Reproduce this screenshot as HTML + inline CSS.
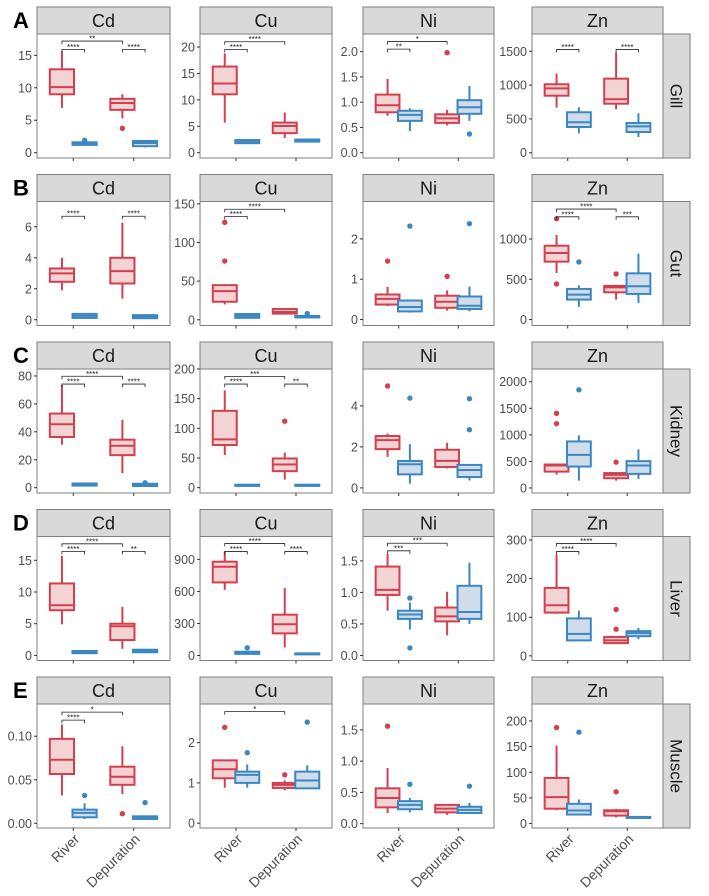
<!DOCTYPE html>
<html><head><meta charset="utf-8">
<style>
html,body{margin:0;padding:0;background:#fff;}
svg{display:block;font-family:"Liberation Sans",sans-serif;}
</style></head>
<body>
<svg id="chart" width="709" height="896" viewBox="0 0 709 896" xmlns="http://www.w3.org/2000/svg"></svg>
<script>
const organs = ['Gill','Gut','Kidney','Liver','Muscle'];
const rowLetters = ['A','B','C','D','E'];
const metals = ['Cd','Cu','Ni','Zn'];
const categories = ['River','Depuration'];
const yDomains = [
 [-0.82,18.29],[-1.0,22.46],[-0.105,2.35],[-78,1755],
 [-0.37,7.63],[-7.4,153],[-0.15,2.93],[-74,1466],
 [-3.8,85],[-9,200],[-0.25,5.8],[-95,2240],
 [-0.8,18.75],[-47,1114],[-0.08,1.887],[-12,309],
 [-0.0054,0.137],[-0.12,2.96],[-0.07,1.915],[-8.6,233]
];
const yTicks = [
 ['0','5','10','15'],['0','5','10','15','20'],['0.0','0.5','1.0','1.5','2.0'],['0','500','1000','1500'],
 ['0','2','4','6'],['0','50','100','150'],['0','1','2'],['0','500','1000'],
 ['0','20','40','60','80'],['0','50','100','150','200'],['0','2','4'],['0','500','1000','1500','2000'],
 ['0','5','10','15'],['0','300','600','900'],['0.0','0.5','1.0','1.5'],['0','100','200','300'],
 ['0.00','0.05','0.10'],['0','1','2'],['0.0','0.5','1.0','1.5'],['0','50','100','150','200']
];
const boxStats = [
 [[6.9,9.0,10.1,12.85,15.6],[1.2,1.2,1.4,1.6,1.6],[5.3,6.6,7.65,8.3,9.0],[0.8,1.0,1.5,1.8,1.8]],
 [[5.7,11.05,13.1,16.3,18.8],[1.7,1.8,2.0,2.4,2.5],[2.8,3.7,5.05,5.7,7.6],[2.0,2.1,2.3,2.5,2.6]],
 [[0.73,0.80,0.94,1.15,1.46],[0.43,0.63,0.75,0.83,0.88],[0.54,0.59,0.68,0.76,0.85],[0.63,0.77,0.90,1.04,1.32]],
 [[666,843,952,1012,1169],[287,380,450,598,672],[642,725,790,1095,1485],[232,306,390,440,583]],
 [[1.91,2.45,2.99,3.31,4.0],[0.1,0.12,0.25,0.38,0.4],[1.37,2.34,3.14,4.0,6.26],[0.08,0.1,0.2,0.3,0.33]],
 [[19.8,23.3,37,44.8,45],[2,2.5,5,7.5,8],[7,8,10,14,15],[2,3,4,5,5.5]],
 [[0.33,0.37,0.51,0.62,0.81],[0.17,0.2,0.31,0.47,0.47],[0.22,0.29,0.44,0.59,0.72],[0.2,0.26,0.34,0.57,0.82]],
 [[579,719,826,917,1050],[157,248,310,380,425],[248,338,400,418,434],[207,318,413,574,818]],
 [[30.8,36.3,45.4,53.1,73.5],[1,1.5,2,3,3.5],[10.4,23.3,30,34.4,48.6],[0.8,1.2,2,2.8,3.2]],
 [[55,71.9,81.4,129.5,164],[2,3,4,5,6],[13.6,27.8,39,49.2,59.3],[2,3,4,5,6]],
 [[1.51,1.89,2.33,2.53,2.65],[0.21,0.66,1.15,1.31,2.13],[0.95,1.02,1.32,1.86,2.2],[0.36,0.53,0.87,1.12,1.12]],
 [[252,308,422,441,441],[138,403,624,876,990],[138,183,246,280,297],[170,265,422,505,725]],
 [[4.9,7.13,7.92,11.35,15.7],[0.3,0.35,0.5,0.7,0.75],[1.05,2.42,4.6,5.0,7.65],[0.4,0.5,0.7,0.9,1.0]],
 [[615,684,831,878,975],[10,15,25,35,40],[75,207,292,382,631],[8,10,15,20,22]],
 [[0.71,0.96,1.04,1.41,1.61],[0.41,0.58,0.65,0.71,0.84],[0.32,0.54,0.62,0.76,1.01],[0.50,0.58,0.69,1.105,1.47]],
 [[109,112,131,176,262],[40,40,57,97,117],[30,33,40,49,49],[43,51,59,64,72]],
 [[0.0319,0.0566,0.073,0.097,0.1135],[0.005,0.0069,0.0119,0.0157,0.023],[0.0335,0.0442,0.0535,0.065,0.0885],[0.004,0.005,0.006,0.008,0.008]],
 [[0.88,1.115,1.34,1.56,1.58],[0.88,1.0,1.2,1.28,1.46],[0.815,0.875,0.95,1.0,1.06],[0.86,0.865,1.06,1.28,1.44]],
 [[0.17,0.26,0.41,0.565,0.89],[0.18,0.23,0.30,0.36,0.41],[0.14,0.18,0.24,0.3,0.3],[0.17,0.17,0.22,0.27,0.33]],
 [[26,29,51.5,89,152],[17,17.6,25.4,38.5,47],[12,15.6,24,26,29],[10,11,12,13,14]]
];
const outliers = [
 [[],[1.9],[3.75],[]],
 [[],[],[],[]],
 [[],[],[1.98],[0.37]],
 [[],[],[],[]],
 [[],[],[],[]],
 [[76,126],[],[],[8]],
 [[1.45],[2.32],[1.07],[2.38]],
 [[1252,442],[715],[566],[]],
 [[],[],[],[3.5]],
 [[],[],[112],[]],
 [[4.97],[4.38],[],[2.84,4.35]],
 [[1211,1406],[1848],[486],[]],
 [[],[],[],[]],
 [[],[72],[],[]],
 [[],[0.91,0.12],[],[]],
 [[],[],[120,69],[]],
 [[],[0.0319],[0.011],[0.0238]],
 [[2.38],[1.75],[1.2],[2.51]],
 [[1.56],[0.63],[],[0.6]],
 [[187],[178],[62],[]]
];
const sigPanels = [0,0,0,1,1,2,2,3,3,4,4,5,5,7,7,7,8,8,8,9,9,9,12,12,12,13,13,13,14,14,15,15,16,16,17];
const sigFrom =   [0,0,2,0,0,0,0,0,2,0,2,0,0,0,0,2,0,0,2,0,0,2,0,0,2,0,0,2,0,0,0,0,0,0,0];
const sigTo =     [1,2,3,1,2,1,2,1,3,1,3,1,2,1,2,3,1,2,3,1,2,3,1,2,3,1,2,3,1,2,1,2,1,2,2];
const sigY = [15.9,17.2,15.9,19.55,21.0,2.05,2.2,1527,1527,6.68,6.68,133.6,143,1276,1372,1276,74.2,79.8,74.2,174.6,187.6,174.6,16.4,17.6,16.4,973,1048,973,1.66,1.78,270,291,0.1185,0.1277,2.77];
const sigLabels = ['****','**','****','****','****','**','*','****','****','****','****','****','****','****','****','***','****','****','****','****','***','**','****','****','**','****','****','****','***','***','****','****','****','*','*'];

const svg = document.getElementById('chart');
const NS = 'http://www.w3.org/2000/svg';
function mk(tag, attrs, parent){ const e=document.createElementNS(NS,tag); for(const k in attrs) e.setAttribute(k,attrs[k]); (parent||svg).appendChild(e); return e; }

const colX = [[37,170],[200,332],[363,494],[532,663]];
const rowTop = [7,174.5,342,509.5,677];
const STRIP=27, PH=124;
const RED='#d23f4f', REDF='#f3d3d3', BLUE='#3a87c2', BLUEF='#d0dcea';

function xScale(c, group){
  const [x0,x1]=colX[c]; const w=x1-x0; const u=w/2.2;
  const cat=Math.floor(group/2), side=(group%2)?1:-1;
  return x0 + u*(0.6+cat) + side*0.1875*u;
}
function catX(c,cat){ const [x0,x1]=colX[c]; return x0+(x1-x0)/2.2*(0.6+cat); }
function yScale(p, v){ const r=Math.floor(p/4); const top=rowTop[r]+STRIP, bot=top+PH; const [lo,hi]=yDomains[p]; return bot-(v-lo)/(hi-lo)*PH; }

for(let r=0;r<5;r++){
  const T=rowTop[r];
  const lt = mk('text',{x:13,y:T+21,'font-size':22,'font-weight':'bold',fill:'#000'});
  
  
  lt.textContent=rowLetters[r];
  const rs = mk('g',{});
  
  
  mk('rect',{x:663,y:T+STRIP,width:27,height:PH,fill:'#d9d9d9',stroke:'#7f7f7f','stroke-width':1},rs);
  const ot = mk('text',{x:0,y:0,'font-size':17,fill:'#1a1a1a','text-anchor':'middle',transform:`translate(670.5,${T+STRIP+PH/2}) rotate(90)`},rs);
  ot.textContent=organs[r];
  for(let c=0;c<4;c++){
    const p=r*4+c; const [x0,x1]=colX[c];
    const g = mk('g',{});
    
    
    mk('rect',{x:x0,y:T,width:x1-x0,height:STRIP,fill:'#d9d9d9',stroke:'#7f7f7f','stroke-width':1},g);
    const st=mk('text',{x:(x0+x1)/2,y:T+20,'font-size':18,fill:'#1a1a1a','text-anchor':'middle'},g);
    
    
    st.textContent=metals[c];
    mk('rect',{x:x0,y:T+STRIP,width:x1-x0,height:PH,fill:'#fff',stroke:'#7f7f7f','stroke-width':1},g);
    yTicks[p].forEach(lbl=>{
      const y=yScale(p,parseFloat(lbl));
      mk('line',{x1:x0-3,x2:x0,y1:y,y2:y,stroke:'#333','stroke-width':1},g);
      const t=mk('text',{x:x0-5,y:y+4.5,'font-size':12.5,fill:'#4d4d4d','text-anchor':'end'},g);
      
      
      t.textContent=lbl;
    });
    for(let k=0;k<4;k++){
      const s=boxStats[p][k]; const cx=xScale(c,k); const hw=(x1-x0)/2.2*0.2;
      const red=(k%2===0); const col=red?RED:BLUE, fil=red?REDF:BLUEF;
      const bg=mk('g',{},g);
      
      
      mk('line',{x1:cx,x2:cx,y1:yScale(p,s[0]),y2:yScale(p,s[1]),stroke:col,'stroke-width':2},bg);
      mk('line',{x1:cx,x2:cx,y1:yScale(p,s[3]),y2:yScale(p,s[4]),stroke:col,'stroke-width':2},bg);
      const yq3=yScale(p,s[3]), yq1=yScale(p,s[1]);
      mk('rect',{x:cx-hw,y:yq3,width:2*hw,height:Math.max(yq1-yq3,0.5),fill:fil,stroke:col,'stroke-width':2},bg);
      const ym=yScale(p,s[2]);
      mk('line',{x1:cx-hw,x2:cx+hw,y1:ym,y2:ym,stroke:col,'stroke-width':2},bg);
      outliers[p][k].forEach(v=>{
        const o=mk('circle',{cx:cx,cy:yScale(p,v),r:2.7,fill:col},bg);
        
        
      });
    }
    for(let cat=0;cat<2;cat++){
      const cx=catX(c,cat), yb=T+STRIP+PH;
      mk('line',{x1:cx,x2:cx,y1:yb,y2:yb+3,stroke:'#333','stroke-width':1},g);
      if(r===4){
        const xl=mk('text',{x:0,y:0,'font-size':14,fill:'#4d4d4d','text-anchor':'end',transform:`translate(${cx+7},${yb+12}) rotate(-45)`},g);
        
        
        xl.textContent=categories[cat];
      }
    }
  }
}
for(let i=0;i<sigPanels.length;i++){
  const p=sigPanels[i], c=p%4;
  const xa=xScale(c,sigFrom[i]), xb=xScale(c,sigTo[i]), y=yScale(p,sigY[i]);
  const b=mk('g',{});
  
  
  mk('path',{d:`M${xa},${y+3}V${y}H${xb}V${y+3}`,fill:'none',stroke:'#222','stroke-width':0.8},b);
  const t=mk('text',{x:(xa+xb)/2,y:y+0.5,'font-size':8,fill:'#222','text-anchor':'middle'},b);
  t.textContent=sigLabels[i];
}
</script>
</body></html>
